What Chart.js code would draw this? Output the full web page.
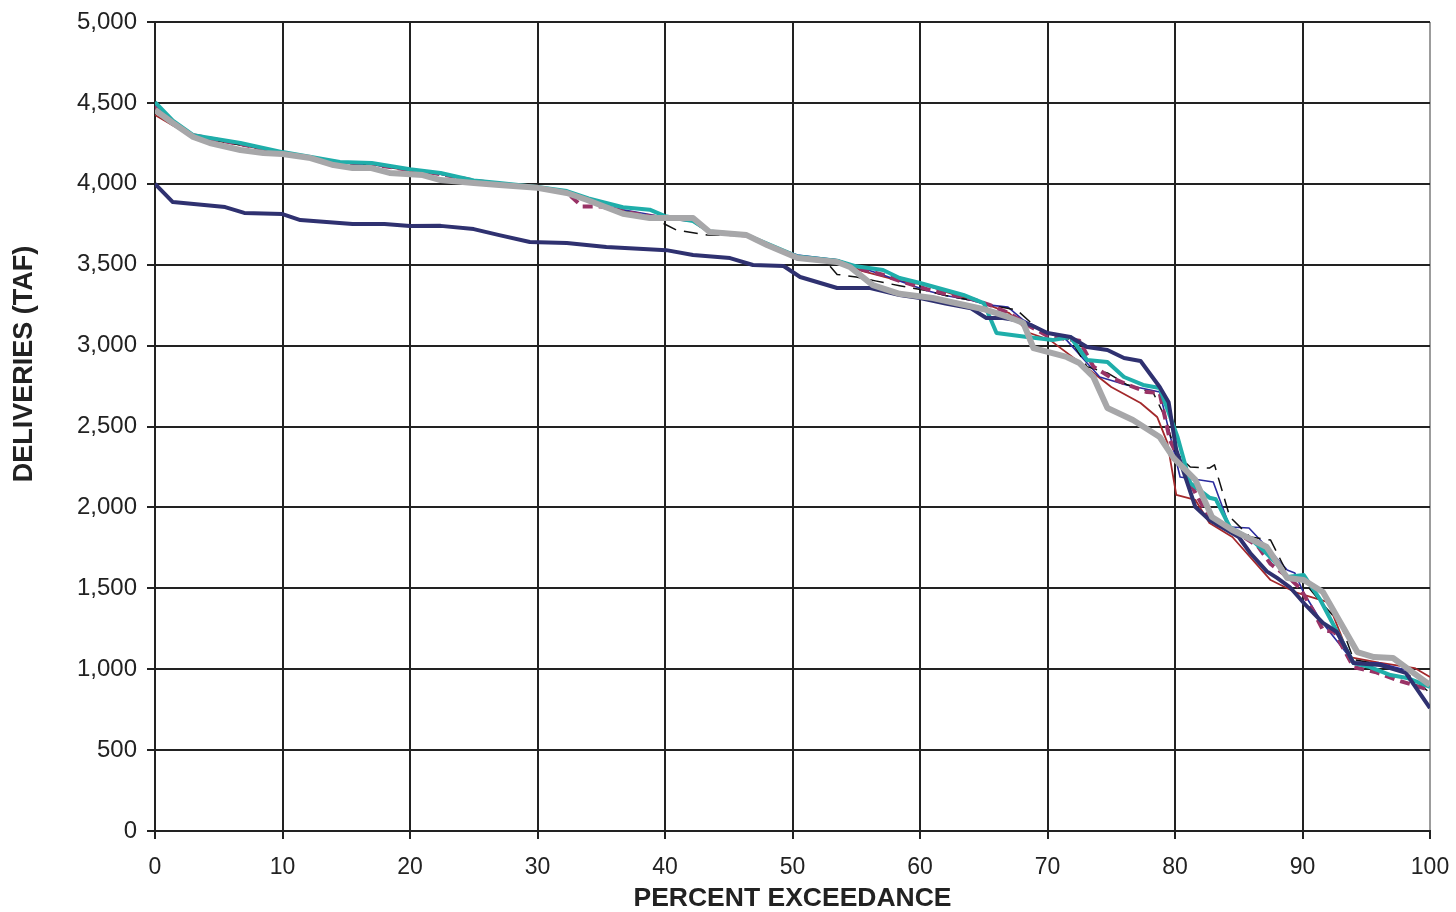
<!DOCTYPE html>
<html><head><meta charset="utf-8">
<script src="https://cdn.jsdelivr.net/npm/chart.js@4.4.0/dist/chart.umd.min.js"></script>
<style>html,body{margin:0;padding:0;background:#fff;}#wrap{width:1456px;height:912px;}</style>
</head><body><div id="wrap"><canvas id="c" width="1456" height="912"></canvas></div>
<script>
// ---- data (percent exceedance, deliveries TAF) ----
const grayX = [0,1.4,3,4.3,6.7,8.5,10,12.2,14,15.5,16.9,18.4,21,22.4,25,27,30,32.3,33.9,36.7,38.8,42.2,43.5,46.4,48,50.4,53.5,54.5,56.3,58.4,61,65,66.9,68.1,68.9,71.5,72.5,73.6,74.7,76.7,78.8,79.9,81.6,82.9,84.5,87.2,88.8,90.1,91.6,94.3,95.6,97.1,98.7,100];
const grayY = [4456,4376,4289,4252,4209,4190,4184,4159,4116,4098,4098,4067,4054,4023,4005,3992,3975,3943,3900,3815,3789,3789,3702,3683,3622,3541,3517,3486,3374,3320,3294,3225,3177,3140,2985,2930,2892,2806,2614,2540,2435,2305,2170,1941,1860,1755,1564,1551,1477,1106,1075,1069,977,902];

const navyX = [0,1.4,5.5,7,10,11.4,15.5,18,20,22.4,25,27,29.4,32.3,35.4,38.3,40.1,42.2,45.1,46.9,49.3,50.6,53.5,56.1,58.4,60,62,64,65.2,66.5,67.5,68.7,70,71.8,73.1,74.7,76,77.3,78.8,79.5,80.1,81.6,82.7,85,85.9,87.2,88,89,90.1,91.6,92.7,94,96.1,98.1,100];
const navyY = [4000,3887,3856,3820,3813,3776,3751,3751,3739,3740,3720,3683,3640,3634,3609,3597,3590,3560,3541,3498,3492,3424,3356,3356,3313,3294,3260,3230,3171,3171,3158,3127,3078,3053,2991,2973,2923,2905,2744,2650,2355,2002,1922,1817,1718,1605,1564,1508,1409,1286,1230,1038,1026,977,760];

const tealX = [0,1.4,3,6.7,10,14.5,17,20,22.4,25,27,30,32.3,34,36.7,38.8,40,42.2,43.5,46.4,48,50.4,53.5,55,57.1,58.4,60,63.4,65,66,68.4,70.4,71.8,73.1,74.7,76,77.5,78.8,80.2,81.2,82.7,83.2,84.3,86,86.9,88,88.8,90.1,91.4,94,95.3,96.9,98.2,100];
const tealY = [4505,4390,4301,4252,4196,4135,4128,4090,4067,4020,4005,3980,3955,3910,3855,3840,3800,3770,3705,3683,3630,3550,3525,3490,3467,3418,3387,3313,3263,3078,3053,3034,3053,2911,2899,2806,2757,2738,2435,2150,2060,2050,1879,1800,1737,1650,1570,1582,1428,1038,1013,964,946,890];

const maroonX = [0,1.4,3,6.7,10,14.5,17,20,22.4,25,27,30,32.3,33.5,35,36.7,38.8,40,42.2,43.5,46.4,48,50.4,53.5,55,57,58.4,60.5,62,64,65.5,67,68.6,70,71.5,72.5,73.6,74.9,76.2,77.8,78.8,79.2,79.6,81.2,81.6,82.9,84,85.4,86.5,87.5,89,89.8,90.8,91.6,92.5,94,95.7,97.4,100];
const maroonY = [4480,4370,4300,4245,4190,4130,4120,4085,4060,4020,4000,3975,3945,3860,3860,3830,3800,3790,3775,3700,3680,3620,3545,3520,3480,3440,3400,3350,3320,3290,3250,3200,3120,3060,3040,3030,2870,2806,2760,2713,2707,2560,2416,2151,2089,1904,1873,1817,1760,1650,1560,1502,1366,1242,1230,1013,983,933,871];

const blackX = [0,1.4,3,6.7,10,14.5,17,20,22.4,25,27,30,32.3,34,36.7,38.8,39.8,40.9,43.3,46.4,48,50.4,52.5,53.5,55,56.5,58.4,60.5,62,64,65.5,67.6,69,70,71.8,73.1,74.7,76.2,78.3,79.2,80,80.6,81.2,82.7,83.1,84.3,85.9,87.5,88.8,90.1,91.6,93,94,96,98.1,100];
const blackY = [4470,4380,4295,4240,4190,4130,4120,4085,4060,4015,4000,3975,3945,3890,3830,3800,3758,3714,3683,3680,3625,3545,3530,3440,3424,3400,3370,3340,3310,3280,3250,3220,3120,3060,3040,2870,2831,2760,2707,2560,2350,2293,2250,2243,2263,1941,1817,1798,1594,1540,1400,1280,1060,1030,980,853];

const blueX = [0,1.4,3,6.7,10,14.5,17,20,22.4,25,27,30,32.3,34,36.7,38.8,40,42.2,43.5,46.4,48,50.4,53.5,55,57,58.4,60.5,62,64,65.5,66.9,68.1,69.9,71.5,73.1,74.1,76.2,78.8,79.6,80.4,83,84.3,85.8,87.2,88.8,89.4,90.1,91.4,94,96,98.1,100];
const blueY = [4490,4380,4295,4245,4190,4130,4120,4085,4060,4020,4000,3975,3945,3890,3840,3810,3790,3770,3700,3680,3625,3560,3530,3490,3440,3400,3340,3310,3280,3250,3238,3158,3084,3034,2892,2806,2757,2713,2450,2188,2157,1879,1873,1755,1613,1594,1471,1304,1044,1038,995,915];

const redX = [0,1.4,3,6.7,10,14.5,17,20,22.4,25,27,30,32.3,34,36.7,38.8,40,42.2,43.5,46.4,48,50.4,53.5,55.5,58.4,60.5,62.5,65,67,68.6,70.2,73,75,77.3,78.6,79.4,80.1,81.6,82.7,84.5,87.5,89.4,92,93.7,96,98.8,100];
const redY = [4425,4360,4290,4240,4190,4130,4120,4080,4060,4020,4000,3975,3945,3890,3830,3800,3790,3775,3705,3680,3625,3550,3530,3460,3400,3374,3320,3263,3201,3078,3034,2868,2744,2645,2559,2400,2077,2046,1904,1817,1551,1477,1415,1075,1040,1007,952];

const xTicks = [0,10,20,30,40,50,60,70,80,90,100];
const yTicks = [0,500,1000,1500,2000,2500,3000,3500,4000,4500,5000];
const xTitle = 'PERCENT EXCEEDANCE';
const yTitle = 'DELIVERIES (TAF)';

function pts(xs, ys){ return xs.map((x,i)=>({x:x, y:ys[i]})); }

const FONT = "'Liberation Sans', Arial, sans-serif";
const datasets = [
  {data: pts(grayX, grayY), borderColor:'#A7A7A9', borderWidth:6},
  {data: pts(navyX, navyY), borderColor:'#2F3170', borderWidth:4},
  {data: pts(tealX, tealY), borderColor:'#1FAEAA', borderWidth:4},
  {data: pts(maroonX, maroonY), borderColor:'#993366', borderWidth:4, borderDash:[10,6]},
  {data: pts(blackX, blackY), borderColor:'#111111', borderWidth:1.5, borderDash:[14,8]},
  {data: pts(blueX, blueY), borderColor:'#2B2B9E', borderWidth:1.6},
  {data: pts(redX, redY), borderColor:'#A3282B', borderWidth:1.8}
].map(d => Object.assign({pointRadius:0, tension:0, fill:false, borderJoinStyle:'round'}, d));

// y-axis title drawn as canvas text at the reference position
const yTitlePlugin = {
  id: 'yTitle',
  afterDraw(chart) {
    const ctx = chart.ctx;
    ctx.save();
    ctx.translate(25, 364);
    ctx.rotate(-Math.PI / 2);
    ctx.font = "bold 27px " + FONT;
    ctx.fillStyle = '#222';
    ctx.textAlign = 'center';
    ctx.textBaseline = 'middle';
    ctx.fillText(yTitle, 0, 0);
    ctx.restore();
  }
};

new Chart(document.getElementById('c'), {
  type: 'line',
  data: { datasets },
  plugins: [yTitlePlugin],
  options: {
    responsive: false,
    animation: false,
    devicePixelRatio: 1,
    layout: { padding: { left: 0, right: 26, top: 22, bottom: 0 } },
    plugins: { legend: { display: false }, tooltip: { enabled: false } },
    scales: {
      x: {
        type: 'linear', min: 0, max: 100,
        afterBuildTicks: s => { s.ticks = xTicks.map(v => ({value: v})); },
        afterFit: s => { s.height = 81; s.paddingLeft = 0; s.paddingRight = 0; },
        grid: { color: c => (c.tick && c.tick.value === 100) ? '#9C9C9C' : '#222', tickColor: '#222',
                lineWidth: 2, tickLength: 8, drawTicks: true },
        border: { color: '#222', width: 2 },
        ticks: { color: '#222', font: { family: FONT, size: 23 }, padding: 15, maxRotation: 0 },
        title: { display: true, text: xTitle, color: '#222',
                 font: { family: FONT, size: 26.5, weight: 'bold', lineHeight: 1.0 }, padding: { top: 0, bottom: 0 } }
      },
      y: {
        type: 'linear', min: 0, max: 5000,
        afterBuildTicks: s => { s.ticks = yTicks.map(v => ({value: v})); },
        afterFit: s => { s.width = 155; s.paddingTop = 0; s.paddingBottom = 0; },
        grid: { color: '#222', lineWidth: 2, tickLength: 8, drawTicks: true },
        border: { color: '#222', width: 2 },
        ticks: { color: '#222', font: { family: FONT, size: 24 }, padding: 10,
                 callback: v => v.toLocaleString('en-US') },
        title: { display: false }
      }
    }
  }
});
</script></body></html>
